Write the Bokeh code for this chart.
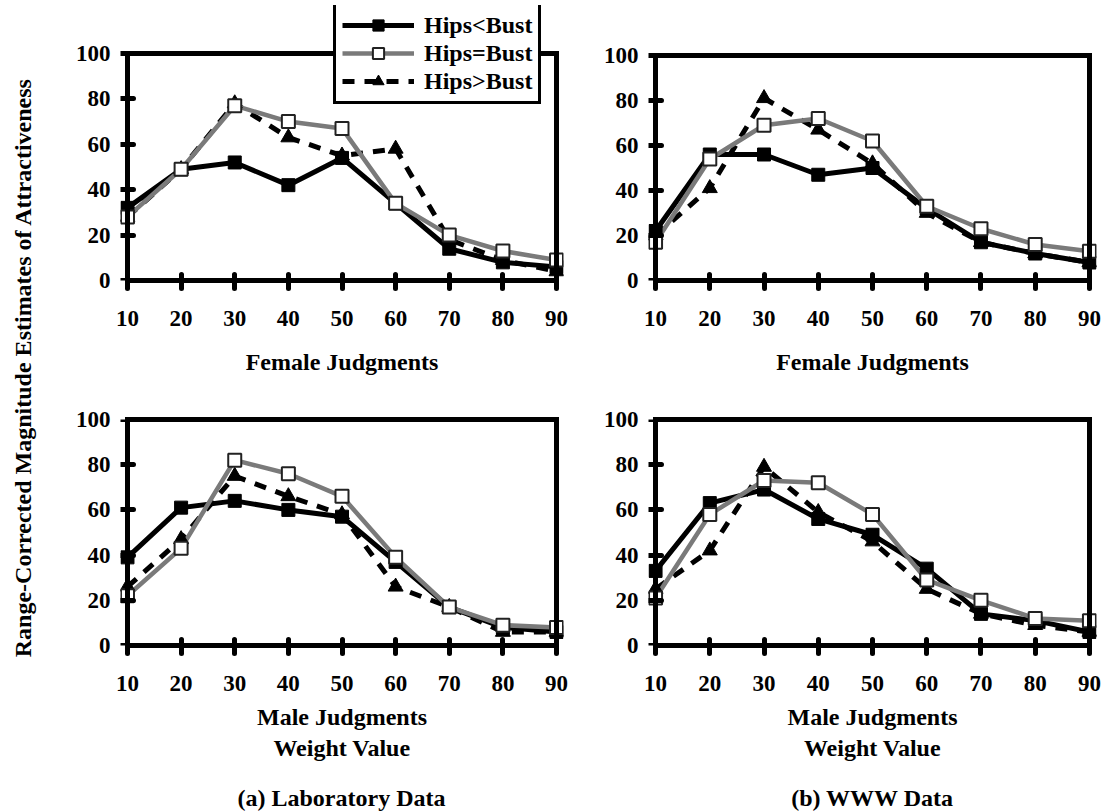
import math
from bokeh.plotting import figure
from bokeh.layouts import row, column
from bokeh.models import (Range1d, FixedTicker, LinearAxis, Legend, LegendItem,
                          Label)
from bokeh.embed import file_html
from bokeh.resources import INLINE

# ---------------- data ----------------
weights = [10, 20, 30, 40, 50, 60, 70, 80, 90]
y_ticks = [0, 20, 40, 60, 80, 100]

lab_female_lt = [32, 49, 52, 42, 54, 34, 14, 8, 6]
lab_female_eq = [28, 49, 77, 70, 67, 34, 20, 13, 9]
lab_female_gt = [28, 49, 78, 63, 55, 58, 18, 9, 4]

www_female_lt = [22, 56, 56, 47, 50, 32, 17, 12, 8]
www_female_eq = [17, 54, 69, 72, 62, 33, 23, 16, 13]
www_female_gt = [20, 41, 81, 67, 52, 30, 17, 12, 8]

lab_male_lt = [39, 61, 64, 60, 57, 37, 17, 8, 6]
lab_male_eq = [22, 43, 82, 76, 66, 39, 17, 9, 8]
lab_male_gt = [26, 47, 75, 66, 58, 26, 17, 6, 6]

www_male_lt = [33, 63, 69, 56, 49, 34, 14, 11, 6]
www_male_eq = [21, 58, 73, 72, 58, 29, 20, 12, 11]
www_male_gt = [25, 42, 79, 59, 46, 25, 14, 9, 6]

series_labels = ["Hips<Bust", "Hips=Bust", "Hips>Bust"]
y_title = "Range-Corrected Magnitude Estimates of Attractiveness"
female_title = "Female Judgments"
male_title = "Male Judgments\nWeight Value"
captions = ["(a) Laboratory Data", "(b) WWW Data"]

FONT = "Liberation Serif"
PAD = 1.3
GREY = "#7a7a7a"


def style_axis(ax):
    ax.axis_line_width = 5
    ax.axis_line_color = "black"
    ax.axis_line_cap = "square"
    ax.major_tick_line_width = 5
    ax.major_tick_line_color = "black"
    ax.major_tick_line_cap = "round"
    ax.major_tick_in = 6
    ax.major_tick_out = 8
    ax.minor_tick_line_color = None
    ax.major_label_text_font = FONT
    ax.major_label_text_font_size = "23px"
    ax.major_label_text_font_style = "bold"
    ax.major_label_text_color = "black"
    ax.axis_label_text_font = FONT
    ax.axis_label_text_font_size = "24px"
    ax.axis_label_text_font_style = "bold"
    ax.axis_label_text_color = "black"


def border_axis(ax):
    style_axis(ax)
    ax.major_tick_line_color = None
    ax.major_tick_in = 0
    ax.major_tick_out = 0
    ax.major_label_standoff = 0
    ax.axis_label_standoff = 0


def make_panel(lt, eq, gt, width, height, mbl, mbr, mbt, mbb, xlabel,
               label_standoff, frame_px, ext_px=0, legend_xy=None):
    y_end = 100 + 100.0 * ext_px / frame_px
    p = figure(width=width, height=height, title=None,
               x_range=Range1d(10 - PAD, 90 + PAD), y_range=Range1d(0, y_end),
               output_backend="svg", toolbar_location=None,
               y_axis_location=None,
               min_border_left=mbl, min_border_right=mbr,
               min_border_top=mbt, min_border_bottom=mbb)
    p.outline_line_color = None
    p.grid.visible = False
    p.background_fill_color = "white"
    p.border_fill_color = "white"

    xa = p.xaxis[0]
    style_axis(xa)
    xa.ticker = FixedTicker(ticks=weights)
    xa.bounds = (10, 90)
    xa.major_label_standoff = 22
    xa.axis_label = xlabel
    xa.axis_label_standoff = label_standoff

    # y tick labels (no line, no ticks), closest to the frame
    ylab = LinearAxis(ticker=FixedTicker(ticks=y_ticks), bounds=(0, 100))
    style_axis(ylab)
    ylab.axis_line_color = None
    ylab.major_tick_line_color = None
    ylab.major_tick_in = 0
    ylab.major_tick_out = 0
    ylab.major_label_standoff = 10
    p.add_layout(ylab, "left")

    # y axis line + ticks at x = 10
    yline = LinearAxis(ticker=FixedTicker(ticks=y_ticks), fixed_location=10,
                       bounds=(0, 100))
    style_axis(yline)
    yline.major_label_overrides = {t: "" for t in y_ticks}
    p.add_layout(yline, "left")

    top = LinearAxis(ticker=FixedTicker(ticks=[]), bounds=(10, 90))
    if ext_px:
        top.fixed_location = 100
    border_axis(top)
    p.add_layout(top, "above")
    right = LinearAxis(ticker=FixedTicker(ticks=[]), fixed_location=90,
                       bounds=(0, 100))
    border_axis(right)
    p.add_layout(right, "right")

    r_lt_l = p.line(weights, lt, line_color="black", line_width=5)
    r_gt_l = p.line(weights, gt, line_color="black", line_width=5, line_dash="12 10")
    r_eq_l = p.line(weights, eq, line_color=GREY, line_width=4.5)
    r_lt_m = p.scatter(weights, lt, marker="square", size=13,
                       fill_color="black", line_color="black")
    r_gt_m = p.scatter(weights, gt, marker="triangle", size=15,
                       fill_color="black", line_color="black")
    r_eq_m = p.scatter(weights, eq, marker="square", size=13,
                       fill_color="white", line_color="#222222", line_width=2)

    if legend_xy is not None:
        lg = Legend(items=[
            LegendItem(label=series_labels[0], renderers=[r_lt_l, r_lt_m]),
            LegendItem(label=series_labels[1], renderers=[r_eq_l, r_eq_m]),
            LegendItem(label=series_labels[2], renderers=[r_gt_l, r_gt_m]),
        ], location=legend_xy)
        lg.border_line_color = "black"
        lg.border_line_alpha = 1.0
        lg.border_line_width = 3
        lg.background_fill_color = "white"
        lg.background_fill_alpha = 1.0
        lg.label_text_font = FONT
        lg.label_text_font_size = "24px"
        lg.label_text_font_style = "bold"
        lg.label_text_color = "black"
        lg.glyph_width = 72
        lg.glyph_height = 28
        lg.label_height = 28
        lg.spacing = 0
        lg.padding = 6
        lg.margin = 0
        lg.label_standoff = 10
        p.add_layout(lg, "center")
    return p


# top row: frames 5..280; data 100 at y=53 (left) and y=55 (right)
f1 = make_panel(lab_female_lt, lab_female_eq, lab_female_gt,
                552, 385, 82, 27, 5, 105, female_title, 20,
                frame_px=227, ext_px=48, legend_xy=(213, 176))
f2 = make_panel(www_female_lt, www_female_eq, www_female_gt,
                517, 385, 58, 11, 5, 105, female_title, 20,
                frame_px=225, ext_px=50)
# bottom row: frames 419..645
f3 = make_panel(lab_male_lt, lab_male_eq, lab_male_gt,
                552, 395, 82, 27, 34, 135, male_title, 10, frame_px=226)
f4 = make_panel(www_male_lt, www_male_eq, www_male_gt,
                517, 395, 58, 11, 34, 135, male_title, 10, frame_px=226)

# captions strip (page y 780..812)
cap = figure(width=1069, height=32, x_range=Range1d(0, 1069), y_range=Range1d(0, 32),
             output_backend="svg", toolbar_location=None, title=None,
             x_axis_location=None, y_axis_location=None,
             min_border_left=0, min_border_right=0, min_border_top=0,
             min_border_bottom=0)
cap.outline_line_color = None
cap.grid.visible = False
for cx, txt in zip([303, 834], captions):
    cap.add_layout(Label(x=cx, y=15, text=txt, text_align="center",
                         text_baseline="middle", text_font=FONT,
                         text_font_size="24px", text_font_style="bold",
                         text_color="black"))

yl = figure(width=38, height=734, x_range=Range1d(0, 38), y_range=Range1d(0, 734),
            output_backend="svg", toolbar_location=None, title=None,
            x_axis_location=None, y_axis_location=None,
            min_border_left=0, min_border_right=0, min_border_top=0,
            min_border_bottom=0)
yl.outline_line_color = None
yl.grid.visible = False
yl.add_layout(Label(x=22, y=367, text=y_title, angle=math.pi / 2,
                    text_align="center", text_baseline="middle",
                    text_font=FONT, text_font_size="24px",
                    text_font_style="bold", text_color="black"))

root = row(yl, column(row(f1, f2), row(f3, f4), cap))

open("out.html", "w").write(file_html(root, INLINE))
